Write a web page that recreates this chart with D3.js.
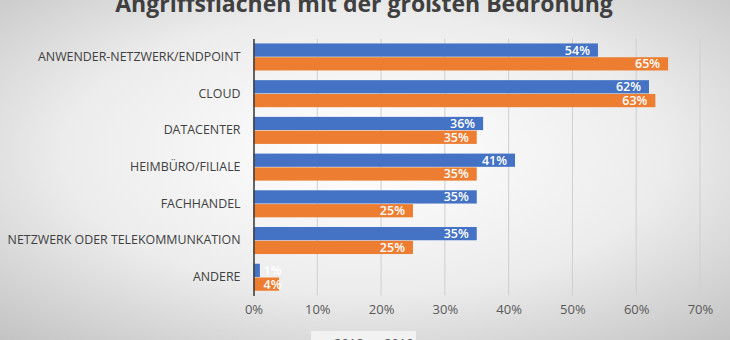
<!DOCTYPE html>
<html>
<head>
<meta charset="utf-8">
<script src="https://cdn.jsdelivr.net/npm/d3@7"></script>
<style>
  html, body { margin: 0; padding: 0; }
  body { width: 730px; height: 340px; overflow: hidden; }
  text { font-family: "Open Sans", sans-serif; }
</style>
</head>
<body>
<div id="chart"></div>
<script>
// Daten
var categories = ['ANWENDER-NETZWERK/ENDPOINT', 'CLOUD', 'DATACENTER', 'HEIMBÜRO/FILIALE',
  'FACHHANDEL', 'NETZWERK ODER TELEKOMMUNKATION', 'ANDERE']
var seriesNames = ['2018', '2019']
var values2018 = [0.54, 0.62, 0.36, 0.41, 0.35, 0.35, 0.01]
var values2019 = [0.65, 0.63, 0.35, 0.35, 0.25, 0.25, 0.04]
var xTicks = [0, 0.1, 0.2, 0.3, 0.4, 0.5, 0.6, 0.7]
var title = 'Angriffsflächen mit der größten Bedrohung'

var colors = { '2018': '#4472C4', '2019': '#ED7D31' }
var width = 730, height = 340

var svg = d3.select('#chart').append('svg')
  .attr('width', width)
  .attr('height', height)

// Hintergrund-Verlauf
var grad = svg.append('defs').append('radialGradient')
  .attr('id', 'bg')
  .attr('cx', '50%').attr('cy', '45%').attr('r', '75%')
grad.append('stop').attr('offset', '0%').attr('stop-color', '#ffffff')
grad.append('stop').attr('offset', '55%').attr('stop-color', '#ececec')
grad.append('stop').attr('offset', '100%').attr('stop-color', '#c2c2c2')
svg.append('rect').attr('width', width).attr('height', height).attr('fill', 'url(#bg)')

var x = d3.scaleLinear().domain([0, 0.7]).range([253.5, 700])
var y0 = d3.scaleBand().domain(categories).range([38.6, 295.6])
  .paddingInner(0.264).paddingOuter(0.132)
var y1 = d3.scaleBand().domain(seriesNames).range([0, y0.bandwidth()]).paddingInner(0.04)

// Gitterlinien
svg.append('g').selectAll('line')
  .data(xTicks.slice(1))
  .enter().append('line')
  .attr('x1', d => x(d)).attr('x2', d => x(d))
  .attr('y1', 38.6).attr('y2', 295.6)
  .attr('stroke', '#cfcfcf')
  .attr('stroke-width', 1)

// x-Achse (nur Beschriftung)
var xAxis = d3.axisBottom(x).tickValues(xTicks).tickFormat(d3.format('.0%')).tickSize(0)
svg.append('g')
  .attr('transform', 'translate(0,302)')
  .call(xAxis)
  .call(g => {
    g.select('.domain').remove()
    g.selectAll('text').attr('fill', '#595959').attr('font-size', '13px')
      .attr('font-family', '"Open Sans", sans-serif')
  })

// Balken
var data = categories.map((c, i) => ({ cat: c, vals: [
  { s: '2018', v: values2018[i] }, { s: '2019', v: values2019[i] }] }))

var groups = svg.append('g').selectAll('g')
  .data(data)
  .enter().append('g')
  .attr('transform', d => 'translate(0,' + y0(d.cat) + ')')

groups.selectAll('rect')
  .data(d => d.vals)
  .enter().append('rect')
  .attr('x', x(0))
  .attr('y', d => y1(d.s))
  .attr('width', d => x(d.v) - x(0))
  .attr('height', y1.bandwidth())
  .attr('fill', d => colors[d.s])

// Werte-Beschriftung
groups.selectAll('text')
  .data(d => d.vals)
  .enter().append('text')
  .attr('x', d => (x(d.v) - x(0) < 30) ? x(0) + 10 : x(d.v) - 8)
  .attr('y', d => y1(d.s) + y1.bandwidth() / 2)
  .attr('dy', '0.36em')
  .attr('text-anchor', d => (x(d.v) - x(0) < 30) ? 'start' : 'end')
  .attr('fill', '#ffffff')
  .attr('font-size', '12.5px')
  .attr('font-weight', 600)
  .text(d => d3.format('.0%')(d.v))

// y-Achse
var yAxis = d3.axisLeft(y0).tickSize(0).tickPadding(13)
svg.append('g')
  .attr('transform', 'translate(' + x(0) + ',0)')
  .call(yAxis)
  .call(g => {
    g.select('.domain').attr('stroke', '#404040').attr('stroke-width', 1.6)
    g.selectAll('text').attr('fill', '#404040').attr('font-size', '12.4px')
      .attr('font-family', '"Open Sans", sans-serif')
  })

// Titel
svg.append('text')
  .attr('x', 364).attr('y', 12)
  .attr('text-anchor', 'middle')
  .attr('fill', '#404040')
  .attr('font-size', '23px')
  .attr('font-weight', 700)
  .text(title)

// Legende
var legend = svg.append('g').attr('transform', 'translate(311,331)')
legend.append('rect').attr('width', 105).attr('height', 20).attr('fill', '#f2f2f2')
var items = legend.selectAll('g.item')
  .data(seriesNames)
  .enter().append('g')
  .attr('class', 'item')
  .attr('transform', (d, i) => 'translate(' + (12 + i * 50) + ',0)')
items.append('rect').attr('y', 9).attr('width', 7).attr('height', 7).attr('fill', d => colors[d])
items.append('text').attr('x', 11).attr('y', 17).attr('fill', '#595959').attr('font-size', '13px').text(d => d)
</script>
</body>
</html>
